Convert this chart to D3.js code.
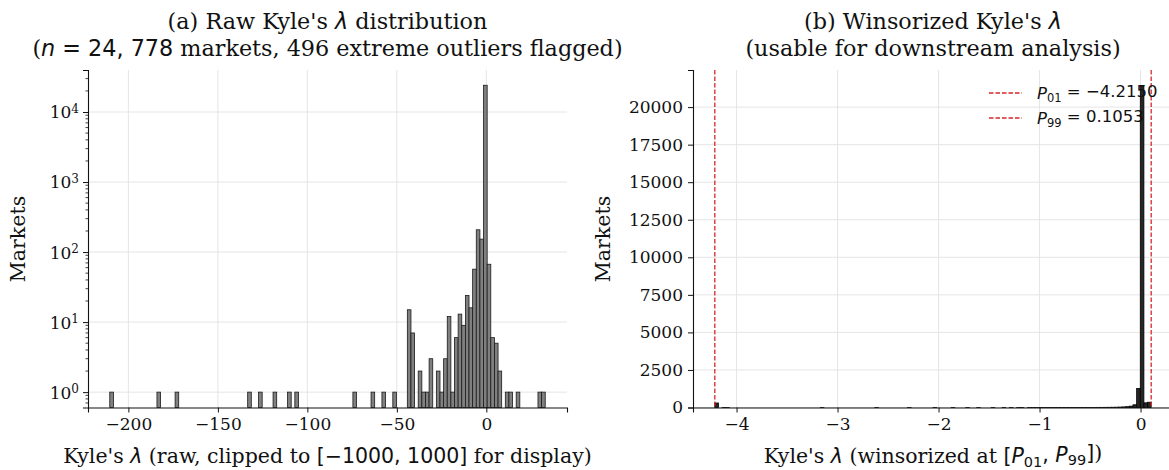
<!DOCTYPE html>
<html>
<head>
<meta charset="utf-8">
<script src="https://cdn.jsdelivr.net/npm/d3@7"></script>
<style>
  body { margin: 0; background: #fff; }
  text { fill: #111; }
</style>
</head>
<body>
<div id="chart"></div>
<script>

// (a) raw lambda histogram, 120 bins between rawLo and rawHi
var rawLo = -210.4;
var rawHi = 32.9;
var rawCounts = [
  1, 0, 0, 0, 0, 0, 0, 0, 0, 0, 0, 0, 0, 1, 0, 0, 0, 0, 1, 0,
  0, 0, 0, 0, 0, 0, 0, 0, 0, 0, 0, 0, 0, 0, 0, 0, 0, 0, 1, 0,
  0, 1, 0, 0, 0, 1, 0, 0, 0, 1, 0, 1, 0, 0, 0, 0, 0, 0, 0, 0,
  0, 0, 0, 0, 0, 0, 0, 1, 0, 0, 0, 0, 1, 0, 0, 1, 0, 0, 1, 0,
  0, 0, 15, 7, 0, 2, 1, 1, 3, 0, 2, 1, 3, 12, 1, 6, 13, 9, 24, 16,
  57, 208, 153, 24100, 67, 6, 5, 2, 0, 1, 1, 0, 1, 0, 0, 0, 0, 0, 1, 1
];
var rawXTicks = [-200, -150, -100, -50, 0];
var rawYTicks = [1, 10, 100, 1000, 10000];

// (b) winsorized histogram, 120 bins between P01 and P99
var p01 = -4.2150;
var p99 = 0.1053;
var winCounts = [
  300, 0, 1, 1, 0, 0, 0, 0, 0, 0, 0, 0, 0, 0, 0, 0, 0, 0, 0, 0,
  0, 0, 0, 0, 0, 0, 0, 0, 0, 1, 0, 0, 0, 0, 0, 0, 0, 0, 0, 0,
  0, 0, 0, 0, 1, 0, 0, 0, 0, 0, 0, 0, 0, 1, 0, 0, 0, 0, 0, 0,
  1, 0, 0, 0, 0, 1, 0, 0, 0, 1, 0, 0, 1, 0, 0, 0, 1, 0, 0, 1,
  0, 1, 0, 1, 1, 0, 1, 2, 1, 1, 2, 2, 1, 3, 2, 3, 3, 4, 3, 4,
  4, 5, 5, 6, 7, 8, 9, 11, 13, 16, 20, 28, 40, 55, 90, 180, 1270, 21400, 310, 350
];
var winXTicks = [-4, -3, -2, -1, 0];
var winYTicks = [0, 2500, 5000, 7500, 10000, 12500, 15000, 17500, 20000];

var SERIF = "DejaVu Serif";
var SANS = "DejaVu Sans";
var gridColor = "#e2e2e2";
var redLine = "#d62728";
var tickFont = "17px";

var svg = d3.select("#chart").append("svg")
  .attr("width", 1169).attr("height", 470)
  .style("font-family", SERIF);

var plotTop = 70, plotBottom = 407.5;

function fmt(v) {
  return v < 0 ? "\u2212" + Math.abs(v) : "" + v;
}

function addGrid(g, x, y, xt, yt, x0, x1) {
  g.append("g").selectAll("line").data(xt).enter().append("line")
    .attr("x1", function(d){ return x(d); }).attr("x2", function(d){ return x(d); })
    .attr("y1", plotTop).attr("y2", plotBottom)
    .attr("stroke", gridColor).attr("stroke-width", 0.9);
  g.append("g").selectAll("line").data(yt).enter().append("line")
    .attr("x1", x0).attr("x2", x1)
    .attr("y1", function(d){ return y(d); }).attr("y2", function(d){ return y(d); })
    .attr("stroke", gridColor).attr("stroke-width", 0.9);
}

function styleAxis(sel) {
  sel.attr("font-family", SERIF);
  sel.select(".domain").attr("stroke", "#111").attr("stroke-width", 1.1);
  sel.selectAll(".tick line").attr("stroke", "#111").attr("stroke-width", 1);
  sel.selectAll(".tick text").attr("fill", "#111")
    .style("font-family", SERIF).style("font-size", tickFont);
}

function binData(counts, lo, hi) {
  var w = (hi - lo) / counts.length;
  return counts.map(function(c, i){
    return {x0: lo + i * w, x1: lo + (i + 1) * w, n: c};
  }).filter(function(d){ return d.n > 0; });
}

// ---------- panel (a) ----------
var rawSpan = rawHi - rawLo;
var xa = d3.scaleLinear()
  .domain([rawLo - 0.05 * rawSpan, rawHi + 0.05 * rawSpan])
  .range([88, 567]);
var ya = d3.scaleLog()
  .domain([Math.pow(10, -0.2195), Math.pow(10, 4.6)])
  .range([plotBottom, plotTop]);

var ga = svg.append("g");
addGrid(ga, xa, ya, rawXTicks, rawYTicks, 88, 567);

ga.append("g").selectAll("rect")
  .data(binData(rawCounts, rawLo, rawHi))
  .enter().append("rect")
  .attr("x", function(d){ return xa(d.x0); })
  .attr("width", function(d){ return xa(d.x1) - xa(d.x0); })
  .attr("y", function(d){ return ya(d.n); })
  .attr("height", function(d){ return plotBottom - ya(d.n); })
  .attr("fill", "#808080")
  .attr("stroke", "#1a1a1a")
  .attr("stroke-width", 0.8);

ga.append("g").attr("transform", "translate(0," + plotBottom + ")")
  .call(d3.axisBottom(xa).tickValues(rawXTicks).tickSize(5).tickPadding(5).tickFormat(fmt))
  .call(styleAxis);

// minor log ticks
var minor = ya.ticks().filter(function(v){
  var l = Math.log10(v);
  return Math.abs(l - Math.round(l)) > 1e-6;
});
ga.append("g").selectAll("line").data(minor).enter().append("line")
  .attr("x1", 88).attr("x2", 85.5)
  .attr("y1", function(d){ return ya(d); }).attr("y2", function(d){ return ya(d); })
  .attr("stroke", "#111").attr("stroke-width", 0.8);

var ayA = ga.append("g").attr("transform", "translate(88,0)")
  .call(d3.axisLeft(ya).tickValues(rawYTicks).tickSize(5).tickPadding(5).tickFormat(""))
  .call(styleAxis);
ayA.selectAll(".tick").append("text")
  .attr("x", -9).attr("dy", "0.35em").attr("text-anchor", "end")
  .attr("fill", "#111")
  .style("font-family", SERIF).style("font-size", tickFont)
  .each(function(d){
    var t = d3.select(this);
    t.append("tspan").text("10");
    t.append("tspan").attr("dy", "-0.45em").style("font-size", "12px")
      .text(Math.round(Math.log10(d)));
  });

// ---------- panel (b) ----------
var winSpan = p99 - p01;
var xb = d3.scaleLinear()
  .domain([p01 - 0.05 * winSpan, p99 + 0.05 * winSpan])
  .range([693, 1173]);
var yb = d3.scaleLinear()
  .domain([0, d3.max(winCounts) * 1.05])
  .range([plotBottom, plotTop]);

var gb = svg.append("g");
addGrid(gb, xb, yb, winXTicks, winYTicks, 693, 1173);

gb.append("g").selectAll("rect")
  .data(binData(winCounts, p01, p99))
  .enter().append("rect")
  .attr("x", function(d){ return xb(d.x0); })
  .attr("width", function(d){ return xb(d.x1) - xb(d.x0); })
  .attr("y", function(d){ return yb(d.n); })
  .attr("height", function(d){ return plotBottom - yb(d.n); })
  .attr("fill", "#262626")
  .attr("stroke", "#000")
  .attr("stroke-width", 0.8);

[p01, p99].forEach(function(v){
  gb.append("line")
    .attr("x1", xb(v)).attr("x2", xb(v)).attr("y1", plotTop).attr("y2", plotBottom)
    .attr("stroke", redLine).attr("stroke-width", 1.3)
    .attr("stroke-dasharray", "4.5,2");
});

gb.append("g").attr("transform", "translate(0," + plotBottom + ")")
  .call(d3.axisBottom(xb).tickValues(winXTicks).tickSize(5).tickPadding(5).tickFormat(fmt))
  .call(styleAxis);
gb.append("g").attr("transform", "translate(693,0)")
  .call(d3.axisLeft(yb).tickValues(winYTicks).tickSize(5).tickPadding(5).tickFormat(d3.format("d")))
  .call(styleAxis);

// legend
var legend = [
  {sub: "01", val: "\u22124.2150"},
  {sub: "99", val: "0.1053"}
];
var lg = gb.append("g").selectAll("g").data(legend).enter().append("g")
  .attr("transform", function(d, i){ return "translate(989," + (93 + i * 25) + ")"; });
lg.append("line").attr("x1", 0).attr("x2", 33)
  .attr("stroke", redLine).attr("stroke-width", 1.3).attr("stroke-dasharray", "4.5,2");
lg.append("text").attr("x", 48).attr("dy", "0.35em")
  .style("font-family", SANS).style("font-size", "16.5px")
  .each(function(d){
    var t = d3.select(this);
    t.append("tspan").style("font-style", "italic").text("P");
    t.append("tspan").attr("dy", "0.3em").style("font-size", "11.5px").text(d.sub);
    t.append("tspan").attr("dy", "-0.3em").text(" = " + d.val);
  });

// ---------- titles and labels ----------
function mathText(sel, parts) {
  parts.forEach(function(p){
    var s = sel.append("tspan").text(p[0]);
    if (p[1]) s.style("font-family", SANS);
    if (p[2]) s.style("font-style", "italic");
    if (p[3]) s.attr("dy", p[3]).style("font-size", p[4]);
  });
}

var tA1 = svg.append("text").attr("x", 327.5).attr("y", 29)
  .attr("text-anchor", "middle").style("font-size", "22.3px");
mathText(tA1, [["(a) Raw Kyle's "], ["\u03bb", 1, 1], [" distribution"]]);
var tA2 = svg.append("text").attr("x", 327.5).attr("y", 56)
  .attr("text-anchor", "middle").style("font-size", "22.3px");
mathText(tA2, [["("], ["n", 1, 1], [" = 24, 778", 1], [" markets, 496 extreme outliers flagged)"]]);

var tB1 = svg.append("text").attr("x", 933).attr("y", 29)
  .attr("text-anchor", "middle").style("font-size", "22.3px");
mathText(tB1, [["(b) Winsorized Kyle's "], ["\u03bb", 1, 1]]);
svg.append("text").attr("x", 933).attr("y", 56)
  .attr("text-anchor", "middle").style("font-size", "22.3px")
  .text("(usable for downstream analysis)");

var xlA = svg.append("text").attr("x", 327.5).attr("y", 463)
  .attr("text-anchor", "middle").style("font-size", "20.5px");
mathText(xlA, [["Kyle's "], ["\u03bb", 1, 1], [" (raw, clipped to "], ["[\u22121000, 1000]", 1], [" for display)"]]);

var xlB = svg.append("text").attr("x", 933).attr("y", 463)
  .attr("text-anchor", "middle").style("font-size", "20.5px");
var sp = [["Kyle's "], ["\u03bb", 1, 1], [" (winsorized at "], ["[", 1], ["P", 1, 1],
  ["01", 1, 0, "0.25em", "14.5px"], [", ", 1, 0, "-0.25em", "20.5px"], ["P", 1, 1],
  ["99", 1, 0, "0.25em", "14.5px"], ["]", 1, 0, "-0.25em", "20.5px"], [")"]];
mathText(xlB, sp);

svg.append("text").attr("transform", "translate(25,239) rotate(-90)")
  .attr("text-anchor", "middle").style("font-size", "20.5px").text("Markets");
svg.append("text").attr("transform", "translate(610,239) rotate(-90)")
  .attr("text-anchor", "middle").style("font-size", "20.5px").text("Markets");

</script>
</body>
</html>
